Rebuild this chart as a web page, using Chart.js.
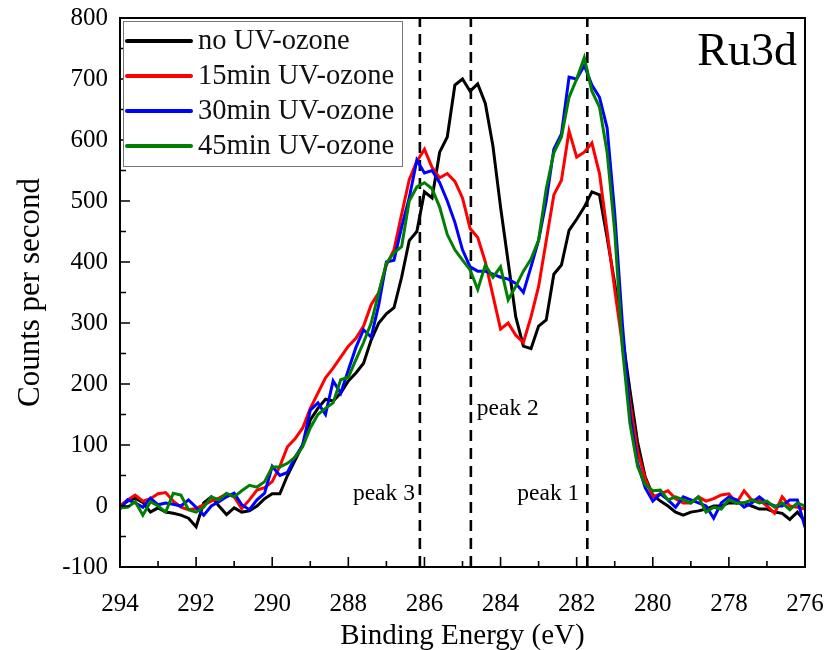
<!DOCTYPE html>
<html>
<head>
<meta charset="utf-8">
<script src="https://cdn.jsdelivr.net/npm/chart.js@4.4.1/dist/chart.umd.min.js"></script>
<style>
html,body{margin:0;padding:0;background:#fff;}
#wrap{width:824px;height:650px;}
</style>
</head>
<body>
<div id="wrap"><canvas id="c" width="824" height="650"></canvas></div>
<script>
// ---- data (binding energy in eV, counts per second) ----
const energy = [
  294, 293.8, 293.6, 293.4, 293.2, 293, 292.8, 292.6, 292.4, 292.2,
  292, 291.8, 291.6, 291.4, 291.2, 291, 290.8, 290.6, 290.4, 290.2,
  290, 289.8, 289.6, 289.4, 289.2, 289, 288.8, 288.6, 288.4, 288.2,
  288, 287.8, 287.6, 287.4, 287.2, 287, 286.8, 286.6, 286.4, 286.2,
  286, 285.8, 285.6, 285.4, 285.2, 285, 284.8, 284.6, 284.4, 284.2,
  284, 283.8, 283.6, 283.4, 283.2, 283, 282.8, 282.6, 282.4, 282.2,
  282, 281.8, 281.6, 281.4, 281.2, 281, 280.8, 280.6, 280.4, 280.2,
  280, 279.8, 279.6, 279.4, 279.2, 279, 278.8, 278.6, 278.4, 278.2,
  278, 277.8, 277.6, 277.4, 277.2, 277, 276.8, 276.6, 276.4, 276.2,
  276
];
const noUV = [
  0, 8, 13, 6, -10, -3, -10, -12, -15, -20,
  -34, 5, 15, 0, -14, -3, -10, -8, 0, 12,
  20, 20, 50, 75, 100, 141, 160, 175, 172, 185,
  205, 218, 234, 272, 300, 315, 325, 375, 435, 450,
  515, 505, 580, 605, 690, 700, 680, 692, 660, 590,
  490, 400, 310, 262, 258, 295, 305, 380, 395, 452,
  470, 490, 515, 510, 440, 365, 280, 190, 105, 48,
  18, 8, 0, -10, -15, -10, -8, -5, 0, 0,
  5, 5, 5, 0, -5, -5, -10, -12, -22, -10,
  -25
];
const uv15 = [
  0, 10, 18, 8, 12, 20, 22, 8, -2, -6,
  -4, 2, 8, 13, 20, 15, -4, 10, 26, 30,
  40, 65, 97, 110, 128, 160, 185, 210, 226, 244,
  262, 275, 295, 330, 350, 395, 420, 478, 535, 565,
  585, 555, 538, 545, 532, 505, 455, 440, 400, 345,
  290, 300, 280, 268, 310, 360, 435, 510, 534, 615,
  572, 580, 595, 545, 450, 355, 265, 170, 90, 45,
  15, 20, 25, 12, 5, 5, 15, 8, 12, 18,
  20, 5, 25, 10, 10, 0, -12, 15, 0, -2,
  -5
];
const uv30 = [
  -5, 10, 5, -2, 13, 2, 5, 3, 0, 10,
  -2, -15, 0, 7, 15, 21, 2, -6, 10, 21,
  65, 50, 55, 80, 100, 157, 169, 150, 205, 185,
  223, 260, 289, 277, 330, 400, 403, 457, 505, 567,
  546, 550, 530, 500, 465, 420, 392, 385, 385, 380,
  375, 372, 365, 350, 392, 436, 500, 585, 610, 703,
  700, 722, 690, 670, 620, 480, 300, 150, 70, 30,
  8, 20, 10, -2, 15, 10, 5, 0, -20, 5,
  15, 10, -2, 5, 15, 5, 0, 0, 10, 10,
  -35
];
const uv45 = [
  -3, -2, 7, -15, 7, 0, -10, 21, 18, -6,
  -10, -2, 15, 10, 21, 15, 25, 34, 31, 40,
  64, 64, 70, 80, 97, 128, 150, 160, 169, 207,
  211, 240, 268, 300, 350, 398, 415, 425, 500, 523,
  530, 520, 490, 445, 420, 403, 387, 355, 395, 375,
  392, 338, 360, 385, 405, 436, 520, 579, 605, 670,
  700, 735, 680, 654, 580, 450, 260, 135, 65, 35,
  25, 26, 10, 15, 10, 5, 15, -10, -2, -5,
  10, 5, 5, 10, 5, 8, -2, 5, -6, 5,
  0
];
const seriesLabels = ['no UV-ozone', '15min UV-ozone', '30min UV-ozone', '45min UV-ozone'];
const seriesValues = [noUV, uv15, uv30, uv45];
const peakEnergies = [286.12, 284.78, 281.72];
const peakLabels = ['peak 3', 'peak 2', 'peak 1'];
const xTickStep = 2;
const yTickStep = 100;
const panelTitle = 'Ru3d';

// ---- styling ----
const FONT = "'Liberation Serif', 'Times New Roman', serif";
const colors = ['#000000', '#ff0000', '#0000ff', '#008000'];

const datasets = seriesValues.map((vals, i) => ({
  label: seriesLabels[i],
  data: energy.map((e, j) => ({ x: e, y: vals[j] })),
  borderColor: colors[i],
  backgroundColor: colors[i],
  borderWidth: 3,
  pointRadius: 0,
  tension: 0,
  fill: false,
  order: 10 - i
}));
peakEnergies.forEach((p, k) => {
  datasets.push({
    label: peakLabels[k],
    isPeak: true,
    data: [{ x: p, y: -100 }, { x: p, y: 800 }],
    borderColor: '#000',
    borderWidth: 2.6,
    borderDash: [11, 7],
    pointRadius: 0,
    fill: false,
    order: 20
  });
});

const framePlugin = {
  id: 'frame',
  afterDatasetsDraw(chart) {
    const { ctx, chartArea: a, scales: { x, y } } = chart;
    ctx.save();
    ctx.strokeStyle = '#000';
    ctx.lineWidth = 2;
    ctx.strokeRect(a.left, a.top, a.right - a.left, a.bottom - a.top);
    ctx.lineWidth = 1.6;
    ctx.beginPath();
    for (let v = x.min; v <= x.max + 1e-9; v += xTickStep / 2) {
      const px = x.getPixelForValue(v);
      const major = Math.abs(Math.round(v / xTickStep) * xTickStep - v) < 1e-6;
      const len = major ? 10 : 6;
      ctx.moveTo(px, a.bottom);
      ctx.lineTo(px, a.bottom - len);
    }
    for (let v = y.min; v <= y.max + 1e-9; v += yTickStep / 2) {
      const py = y.getPixelForValue(v);
      const major = Math.abs(Math.round(v / yTickStep) * yTickStep - v) < 1e-6;
      const len = major ? 10 : 6;
      ctx.moveTo(a.left, py);
      ctx.lineTo(a.left + len, py);
    }
    ctx.stroke();
    ctx.restore();
  }
};

const textPlugin = {
  id: 'texts',
  afterDraw(chart) {
    const { ctx, chartArea: a, scales: { x, y } } = chart;
    ctx.save();
    ctx.fillStyle = '#000';
    // panel title
    ctx.font = '46px ' + FONT;
    ctx.textAlign = 'right';
    ctx.textBaseline = 'alphabetic';
    ctx.fillText(panelTitle, a.right - 8, a.top + 47);
    // peak labels
    ctx.font = '23.5px ' + FONT;
    ctx.textBaseline = 'middle';
    const labelSpec = [
      { align: 'right', dx: -5, v: 20 },
      { align: 'left', dx: 6, v: 160 },
      { align: 'right', dx: -8, v: 20 }
    ];
    peakEnergies.forEach((p, k) => {
      const s = labelSpec[k];
      ctx.textAlign = s.align;
      ctx.fillText(peakLabels[k], x.getPixelForValue(p) + s.dx, y.getPixelForValue(s.v));
    });
    // legend
    const lx = a.left + 3, ly = a.top + 3, lw = 279, lh = 145;
    ctx.fillStyle = '#fff';
    ctx.fillRect(lx, ly, lw, lh);
    ctx.strokeStyle = '#777';
    ctx.lineWidth = 1;
    ctx.strokeRect(lx + 0.5, ly + 0.5, lw, lh);
    ctx.font = '28.5px ' + FONT;
    ctx.textAlign = 'left';
    ctx.textBaseline = 'middle';
    chart.data.datasets.filter(d => !d.isPeak).forEach((d, i) => {
      const cy = ly + 20 + i * 35;
      ctx.strokeStyle = d.borderColor;
      ctx.lineWidth = 4;
      ctx.lineCap = 'round';
      ctx.beginPath();
      ctx.moveTo(lx + 4, cy);
      ctx.lineTo(lx + 68, cy);
      ctx.stroke();
      ctx.fillStyle = '#111';
      ctx.fillText(d.label, lx + 75, cy + 1);
    });
    ctx.restore();
  }
};

new Chart(document.getElementById('c'), {
  type: 'line',
  data: { datasets },
  options: {
    responsive: false,
    animation: false,
    events: [],
    layout: { padding: { left: 0, right: 19, top: 18, bottom: 0 } },
    plugins: { legend: { display: false }, tooltip: { enabled: false } },
    scales: {
      x: {
        type: 'linear',
        reverse: true,
        min: 276,
        max: 294,
        grid: { display: false, drawTicks: false },
        border: { display: false },
        ticks: {
          stepSize: xTickStep,
          autoSkip: false,
          maxRotation: 0,
          color: '#000',
          padding: 22,
          font: { family: FONT, size: 25 }
        },
        title: {
          display: true,
          text: 'Binding Energy (eV)',
          color: '#000',
          font: { family: FONT, size: 29 },
          padding: { top: 0, bottom: -4 }
        },
        afterFit(s) { s.height = 83; s.paddingLeft = 0; s.paddingRight = 0; }
      },
      y: {
        min: -100,
        max: 800,
        grid: { display: false, drawTicks: false },
        border: { display: false },
        ticks: {
          stepSize: yTickStep,
          color: '#000',
          padding: 12,
          font: { family: FONT, size: 25 }
        },
        title: {
          display: true,
          text: 'Counts per second',
          color: '#000',
          font: { family: FONT, size: 31 },
          padding: { top: 12, bottom: 0 }
        },
        afterFit(s) { s.width = 120; s.paddingTop = 0; s.paddingBottom = 0; }
      }
    }
  },
  plugins: [framePlugin, textPlugin]
});
</script>
</body>
</html>
